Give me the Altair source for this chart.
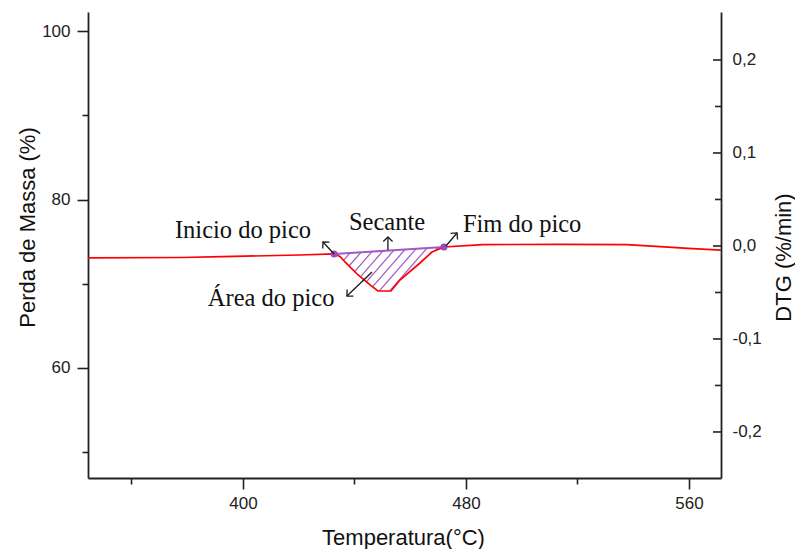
import math

import altair as alt
import numpy as np
import pandas as pd

# ---- DTG curve: temperature (°C) and DTG (%/min) ----
temp = [344.4, 378.1, 392.5, 420.4, 432.7, 434.8, 436.6, 441.3, 445.6, 448.4,
        453.1, 456.3, 463.5, 467.8, 472.1, 486.1, 513.7, 537.8, 548.2, 559.7, 571.5]
dtg = [-0.0129, -0.0124, -0.0115, -0.0097, -0.0086, -0.0113, -0.0172, -0.0312,
       -0.0419, -0.0484, -0.0484, -0.0366, -0.0183, -0.0065, -0.0011, 0.0015,
       0.0018, 0.0015, -0.0005, -0.0025, -0.0045]

# peak onset / end (joined by the secant)
peak_temp = [432.7, 472.1]
peak_dtg = [-0.0086, -0.0011]

# axis ticks
x_ticks = [360, 400, 440, 480, 520, 560]
mass_ticks = [50, 60, 70, 80, 90, 100]
dtg_major = [-0.2, -0.1, 0.0, 0.1, 0.2]
dtg_minor = [-0.15, -0.05, 0.05, 0.15]

# annotations
labels = ["Inicio do pico", "Secante", "Fim do pico", "Área do pico"]
label_temp = [375.6, 438.0, 478.9, 387.4]
label_dtg = [0.0086, 0.0172, 0.0151, -0.0645]

arrow_from_temp = [432.7, 452.0, 472.8, 446.3]
arrow_from_dtg = [-0.0086, -0.0043, 0.0000, -0.0280]
arrow_to_temp = [428.7, 452.0, 476.8, 437.3]
arrow_to_dtg = [0.0043, 0.0097, 0.0140, -0.0538]

# ---- layout ----
W, H = 633, 466
X_DOMAIN = [344.4, 571.5]
MASS_DOMAIN = [46.9, 102.3]
DTG_DOMAIN = [-0.2495, 0.2516]

px_T = W / (X_DOMAIN[1] - X_DOMAIN[0])
px_D = H / (DTG_DOMAIN[1] - DTG_DOMAIN[0])

RED = "#ff0000"
PURPLE = "#a058c4"
DOT = "#9a4cb8"

# ---- hatch lines filling the area between the secant and the curve ----
def secant(t):
    return np.interp(t, peak_temp, peak_dtg)

def curve(t):
    return np.interp(t, temp, dtg)

hatch_slope = 1.15           # screen rise per run
hatch_step_px = 10.4         # horizontal spacing on screen
k = px_D / (hatch_slope * px_T)
t_ref = X_DOMAIN[0] + 262 / px_T
c_ref = t_ref - k * float(secant(t_ref))
d_samples = np.linspace(-0.06, 0.01, 4000)
hatch_rows = []
for n in range(-3, 14):
    c = c_ref + n * hatch_step_px / px_T
    t_line = c + k * d_samples
    inside = ((t_line >= peak_temp[0]) & (t_line <= peak_temp[1])
              & (d_samples <= secant(t_line)) & (d_samples >= curve(t_line)))
    idx = np.nonzero(inside)[0]
    if len(idx) < 2:
        continue
    i0, i1 = idx[0], idx[-1]
    length = math.hypot((t_line[i1] - t_line[i0]) * px_T,
                        (d_samples[i1] - d_samples[i0]) * px_D)
    if length < 3:
        continue
    hatch_rows.append({"temp": float(t_line[i0]), "dtg": float(d_samples[i0]),
                       "temp2": float(t_line[i1]), "dtg2": float(d_samples[i1])})
hatch_df = pd.DataFrame(hatch_rows)

# ---- arrows ----
arrow_df = pd.DataFrame({
    "temp": arrow_from_temp, "dtg": arrow_from_dtg,
    "temp2": arrow_to_temp, "dtg2": arrow_to_dtg,
})
heads = []
for t0, d0, t1, d1 in zip(arrow_from_temp, arrow_from_dtg, arrow_to_temp, arrow_to_dtg):
    dx = (t1 - t0) * px_T
    dy = -(d1 - d0) * px_D
    ang = math.degrees(math.atan2(dx, -dy)) % 360
    heads.append({"temp": t1, "dtg": d1, "angle": ang})
head_df = pd.DataFrame(heads)

curve_df = pd.DataFrame({"temp": temp, "dtg": dtg})
peak_df = pd.DataFrame({"temp": peak_temp, "dtg": peak_dtg})
secant_df = pd.DataFrame({"temp": [peak_temp[0]], "dtg": [peak_dtg[0]],
                          "temp2": [peak_temp[1]], "dtg2": [peak_dtg[1]]})
label_df = pd.DataFrame({"temp": label_temp, "dtg": label_dtg, "text": labels})
mass_df = pd.DataFrame({"temp": [X_DOMAIN[0]] * len(mass_ticks), "mass": mass_ticks})
major_df = pd.DataFrame({"dtg": dtg_major})
minor_df = pd.DataFrame({"dtg": dtg_minor})

# ---- scales & axes ----
x_scale = alt.Scale(domain=X_DOMAIN, nice=False, zero=False)
mass_scale = alt.Scale(domain=MASS_DOMAIN, nice=False, zero=False)
dtg_scale = alt.Scale(domain=DTG_DOMAIN, nice=False, zero=False)

x_axis = alt.Axis(
    values=x_ticks,
    labelExpr="datum.value % 80 == 0 ? datum.label : ''",
    tickSize={"condition": {"test": "datum.value % 80 == 0", "value": 11}, "value": 6},
    labelPadding=6,
    title="Temperatura(°C)",
    titleX=315, titleY=59, titleBaseline="middle", titleAlign="center",
)
mass_axis = alt.Axis(
    orient="left",
    values=mass_ticks,
    labelExpr="datum.value % 20 == 0 ? datum.label : ''",
    tickSize={"condition": {"test": "datum.value % 20 == 0", "value": 11}, "value": 6},
    labelPadding=7,
    title="Perda de Massa (%)",
    titleAngle=270, titleX=-61, titleY=215, titleBaseline="middle", titleAlign="center",
)
dtg_axis = alt.Axis(
    orient="right",
    values=dtg_major,
    ticks=False,
    labelPadding=11,
    labelExpr="(datum.value < 0 ? '-' : '') + replace(format(abs(datum.value), '.1f'), '.', ',')",
    title="DTG (%/min)",
    titleAngle=270, titleX=62, titleY=245, titleBaseline="middle", titleAlign="center",
)

X = alt.X("temp:Q", scale=x_scale, axis=x_axis)
X2 = alt.X2("temp2:Q")
Y = alt.Y("dtg:Q", scale=dtg_scale, axis=dtg_axis)
Y2 = alt.Y2("dtg2:Q")

# ---- layers ----
mass_layer = alt.Chart(mass_df).mark_point(opacity=0).encode(
    x=X, y=alt.Y("mass:Q", scale=mass_scale, axis=mass_axis)
)

hatch = alt.Chart(hatch_df).mark_rule(color=PURPLE, strokeWidth=1.2).encode(
    x=X, x2=X2, y=Y, y2=Y2)
secant_line = alt.Chart(secant_df).mark_rule(color=PURPLE, strokeWidth=2).encode(
    x=X, x2=X2, y=Y, y2=Y2)
line = alt.Chart(curve_df).mark_line(color=RED, strokeWidth=1.7).encode(
    x=X, y=Y, order="temp:Q")
dots = alt.Chart(peak_df).mark_point(filled=True, color=DOT, size=50, opacity=1).encode(
    x=X, y=Y)
shafts = alt.Chart(arrow_df).mark_rule(color="#1a1a1a", strokeWidth=1.3).encode(
    x=X, x2=X2, y=Y, y2=Y2)
arrowheads = alt.Chart(head_df).mark_point(
    shape="M-1,1L0,0L1,1", filled=False, color="#1a1a1a", strokeWidth=1.3,
    size=85, opacity=1,
).encode(x=X, y=Y, angle=alt.Angle("angle:Q", scale=None))
texts = alt.Chart(label_df).mark_text(
    align="left", baseline="alphabetic", font="Liberation Serif", fontSize=24.5,
    color="#111111",
).encode(x=X, y=Y, text="text:N")
ticks_major = alt.Chart(major_df).mark_rule(color="#222222", strokeWidth=1.6).encode(
    y=Y, x=alt.value(W - 8), x2=alt.value(W))
ticks_minor = alt.Chart(minor_df).mark_rule(color="#222222", strokeWidth=1.6).encode(
    y=Y, x=alt.value(W - 6), x2=alt.value(W))

dtg_layers = alt.layer(hatch, secant_line, line, dots, shafts, arrowheads, texts,
                       ticks_major, ticks_minor)

chart = (
    alt.layer(mass_layer, dtg_layers)
    .resolve_scale(y="independent")
    .properties(
        width=W, height=H,
        autosize="none",
        padding={"left": 88, "top": 12, "right": 74, "bottom": 71},
    )
    .configure_view(stroke=None)
    .configure_axis(
        grid=False,
        domainColor="#222222", domainWidth=1.8,
        tickColor="#222222", tickWidth=1.6,
        labelFont="Liberation Sans", labelFontSize=17, labelColor="#222222",
        titleFont="Liberation Sans", titleFontSize=22, titleFontWeight="normal",
        titleColor="#111111",
    )
)

chart.save("out.html", embed_options={"renderer": "svg", "actions": False})
